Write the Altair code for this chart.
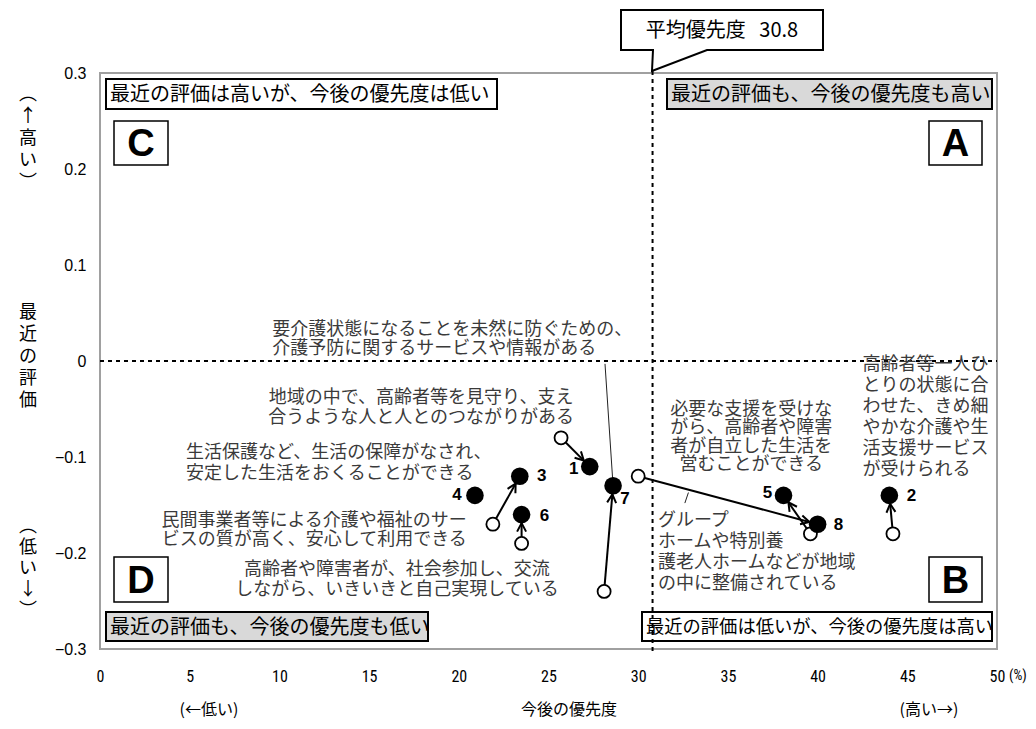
import math
import altair as alt
import pandas as pd

# ---------------- data ----------------
ids = ["1", "2", "3", "4", "5", "6", "7", "8"]
now_x = [27.3, 44.0, 23.4, 20.9, 38.1, 23.5, 28.6, 40.0]
now_y = [-0.11, -0.14, -0.12, -0.14, -0.14, -0.16, -0.13, -0.17]
prev_x = [25.7, 44.2, 21.9, None, 39.6, 23.5, 28.1, 30.0]
prev_y = [-0.08, -0.18, -0.17, None, -0.18, -0.19, -0.24, -0.12]
mean_priority = 30.8

x_ticks = [0, 5, 10, 15, 20, 25, 30, 35, 40, 45, 50]
y_ticks = [-0.3, -0.2, -0.1, 0, 0.1, 0.2, 0.3]

ann_blocks = [
    ["要介護状態になることを未然に防ぐための、", "介護予防に関するサービスや情報がある"],
    ["地域の中で、高齢者等を見守り、支え", "合うような人と人とのつながりがある"],
    ["生活保護など、生活の保障がなされ、", "安定した生活をおくることができる"],
    ["民間事業者等による介護や福祉のサー", "ビスの質が高く、安心して利用できる"],
    ["高齢者や障害者が、社会参加し、交流", "しながら、いきいきと自己実現している"],
    ["必要な支援を受けな", "がら、高齢者や障害", "者が自立した生活を", "営むことができる"],
    ["高齢者等一人ひ", "とりの状態に合", "わせた、きめ細", "やかな介護や生", "活支援サービス", "が受けられる"],
    ["グループ", "ホームや特別養", "護老人ホームなどが地域", "の中に整備されている"],
]
# anchor of first line of each block (data units)
ann_x = [9.6, 17.9, 4.8, 20.45, 16.55, 36.3, 42.5, 31.1]
ann_y = [0.032, -0.039, -0.096, -0.167, -0.218, -0.051, -0.004, -0.167]

conn_x = [28.15, 32.8]
conn_y = [-0.003, -0.137]
conn_x2 = [28.6, 32.6]
conn_y2 = [-0.13, -0.148]

quad_labels = ["最近の評価は高いが、今後の優先度は低い", "最近の評価も、今後の優先度も高い",
               "最近の評価も、今後の優先度も低い", "最近の評価は低いが、今後の優先度は高い"]
quad_letters = ["C", "A", "D", "B"]

# ---------------- layout / style ----------------
W, H = 897, 576
PXX = W / 50.0
PXY = H / 0.6
lab_dx = [-16, 22, 22, -18, -16, 23, 12, 21]
lab_dy = [2, 1, 0, 0, -2, 1, 13, 1]
ann_align = ["left", "center", "left", "right", "center", "center", "left", "left"]
ann_lh = [19, 20, 21, 19, 20, 18.3, 21, 21]
JP = "Noto Sans CJK JP"
LAT = "Liberation Sans"
NARROW = "Roboto Condensed, DejaVu Sans Condensed, Liberation Sans Narrow, Liberation Sans"

pts = pd.DataFrame({
    "id": ids, "nx": now_x, "ny": now_y,
    "lx": [x + dx / PXX for x, dx in zip(now_x, lab_dx)],
    "ly": [y - dy / PXY for y, dy in zip(now_y, lab_dy)],
})
rows = []
for px, py, nx, ny in zip(prev_x, prev_y, now_x, now_y):
    if px is None:
        continue
    sdx = (nx - px) * PXX
    sdy = -(ny - py) * PXY
    ang = math.degrees(math.atan2(sdx, -sdy)) % 360
    rows.append({"px": px, "py": py, "nx": nx, "ny": ny, "ang": ang})
arr = pd.DataFrame(rows)
conn = pd.DataFrame({"x": conn_x, "y": conn_y, "x2": conn_x2, "y2": conn_y2})
one = pd.DataFrame({"k": [0]})

xs = alt.Scale(domain=[0, 50], nice=False, zero=False)
ys = alt.Scale(domain=[-0.3, 0.3], nice=False, zero=False)

layers = []

# quadrant label boxes (pixel positions inside plot area)
quad_boxes = [(6, 397, 6, 36, "white", 20), (567, 892, 6, 36, "#d9d9d9", 20),
              (6, 328, 539, 568, "#d9d9d9", 20), (542, 892, 539, 568, "white", 18.3)]
for (x1, x2, y1, y2, fill, fs), lab in zip(quad_boxes, quad_labels):
    layers.append(alt.Chart(one).mark_rect(fill=fill, stroke="black", strokeWidth=2).encode(
        x=alt.value(x1), x2=alt.value(x2), y=alt.value(y1), y2=alt.value(y2)))
    layers.append(alt.Chart(one).mark_text(text=lab, font=JP, fontSize=fs, align="left",
                                           baseline="middle", color="black").encode(
        x=alt.value(x1 + 4), y=alt.value((y1 + y2) / 2 + 1)))

letter_boxes = [(14, 68, 48, 92), (829, 882, 48, 92), (14, 68, 484, 529), (829, 882, 484, 529)]
for (x1, x2, y1, y2), let in zip(letter_boxes, quad_letters):
    layers.append(alt.Chart(one).mark_rect(fill="white", stroke="black", strokeWidth=1.5).encode(
        x=alt.value(x1), x2=alt.value(x2), y=alt.value(y1), y2=alt.value(y2)))
    layers.append(alt.Chart(one).mark_text(text=let, font=LAT, fontSize=38, fontWeight="bold",
                                           align="center", baseline="middle", color="black").encode(
        x=alt.value((x1 + x2) / 2), y=alt.value((y1 + y2) / 2 + 2)))

# reference lines
layers.append(alt.Chart(one).mark_rule(strokeDash=[4, 4], strokeWidth=2, color="black").encode(
    y=alt.datum(0, scale=ys), x=alt.value(0), x2=alt.value(W)))
layers.append(alt.Chart(one).mark_rule(strokeDash=[4, 4], strokeWidth=2, color="black").encode(
    x=alt.datum(mean_priority, scale=xs), y=alt.value(-2), y2=alt.value(H + 5)))

# annotation texts (one multi-line text per block)
for lines, ax, ay, al, lh in zip(ann_blocks, ann_x, ann_y, ann_align, ann_lh):
    d = pd.DataFrame({"x": [ax], "y": [ay], "t": [lines]})
    layers.append(alt.Chart(d).mark_text(
        font=JP, fontSize=18, lineHeight=lh, align=al, baseline="middle", color="#3a3a3a").encode(
        x=alt.X("x:Q", scale=xs), y=alt.Y("y:Q", scale=ys), text="t"))

layers.append(alt.Chart(conn).mark_rule(strokeWidth=1, color="#222").encode(
    x=alt.X("x:Q", scale=xs), y=alt.Y("y:Q", scale=ys), x2="x2:Q", y2="y2:Q"))

# arrows
layers.append(alt.Chart(arr).mark_rule(strokeWidth=2, color="black").encode(
    x=alt.X("px:Q", scale=xs), y=alt.Y("py:Q", scale=ys), x2="nx:Q", y2="ny:Q"))
layers.append(alt.Chart(arr).mark_point(
    shape="M -4.5 17 L 0 8.5 L 4.5 17", size=4, filled=False, stroke="black",
    strokeWidth=2, opacity=1).encode(
    x=alt.X("nx:Q", scale=xs), y=alt.Y("ny:Q", scale=ys), angle=alt.Angle("ang:Q", scale=None)))
layers.append(alt.Chart(arr).mark_point(
    shape="circle", size=170, fill="white", stroke="black", strokeWidth=1.8, opacity=1,
    fillOpacity=1).encode(x=alt.X("px:Q", scale=xs), y=alt.Y("py:Q", scale=ys)))

# current points (carry the axes)
layers.append(alt.Chart(pts).mark_circle(size=310, color="black", opacity=1).encode(
    x=alt.X("nx:Q", scale=xs, title=None,
            axis=alt.Axis(values=x_ticks, labelFont=NARROW, labelFontSize=16, labelPadding=19)),
    y=alt.Y("ny:Q", scale=ys, title=None,
            axis=alt.Axis(values=y_ticks, labelFont=LAT, labelFontSize=16, labelPadding=14,
                          labelExpr="datum.value == 0 ? '0' : format(datum.value, '.1f')"))))
layers.append(alt.Chart(pts).mark_text(font=LAT, fontSize=17, fontWeight="bold",
                                      align="center", baseline="middle", color="black").encode(
    x=alt.X("lx:Q", scale=xs), y=alt.Y("ly:Q", scale=ys), text="id:N"))

# callout for mean priority
layers.append(alt.Chart(one).mark_point(
    shape="M -101 -20 L 101 -20 L 101 20 L -15 20 L -70 41 L -69 20 L -101 20 Z",
    size=4, filled=True, fill="white", stroke="black", strokeWidth=2, opacity=1).encode(
    x=alt.value(622), y=alt.value(-43)))
layers.append(alt.Chart(one).mark_text(text="平均優先度\u00a0\u00a0\u00a030.8", font=JP, fontSize=20,
                                      align="center", baseline="middle", color="black").encode(
    x=alt.value(622), y=alt.value(-42)))

# axis titles (outside plot area)
layers.append(alt.Chart(one).mark_text(text="(%)", font=NARROW, fontSize=14, align="left",
                                      baseline="middle", color="black").encode(
    x=alt.value(909), y=alt.value(603)))
for txt, xp in [("(←低い)", 109), ("今後の優先度", 469), ("(高い→)", 829)]:
    layers.append(alt.Chart(one).mark_text(text=txt, font=JP, fontSize=16, align="center",
                                          baseline="middle", color="black").encode(
        x=alt.value(xp), y=alt.value(637)))
for chars, yp, lh in [(["︵", "↑", "高", "い", "︶"], 22, 22), (["最", "近", "の", "評", "価"], 240, 22),
                      (["︵", "低", "い", "↓", "︶"], 454, 21)]:
    layers.append(alt.Chart(one).mark_text(text=chars, font=JP, fontSize=18, lineHeight=lh,
                                          align="center", baseline="middle", color="black").encode(
        x=alt.value(-72), y=alt.value(yp)))

chart = alt.layer(*layers).properties(
    width=W, height=H,
    autosize=alt.AutoSizeParams(type="none"),
    padding={"left": 92, "top": 65, "right": 31, "bottom": 72},
).configure_view(stroke="#a0a0a0", strokeWidth=2).configure_axis(
    grid=False, ticks=False, domain=False, labelFlush=False, labelOverlap=False,
    labelColor="black", title=None)

chart.save("out.html", embed_options={"renderer": "svg", "actions": False})
